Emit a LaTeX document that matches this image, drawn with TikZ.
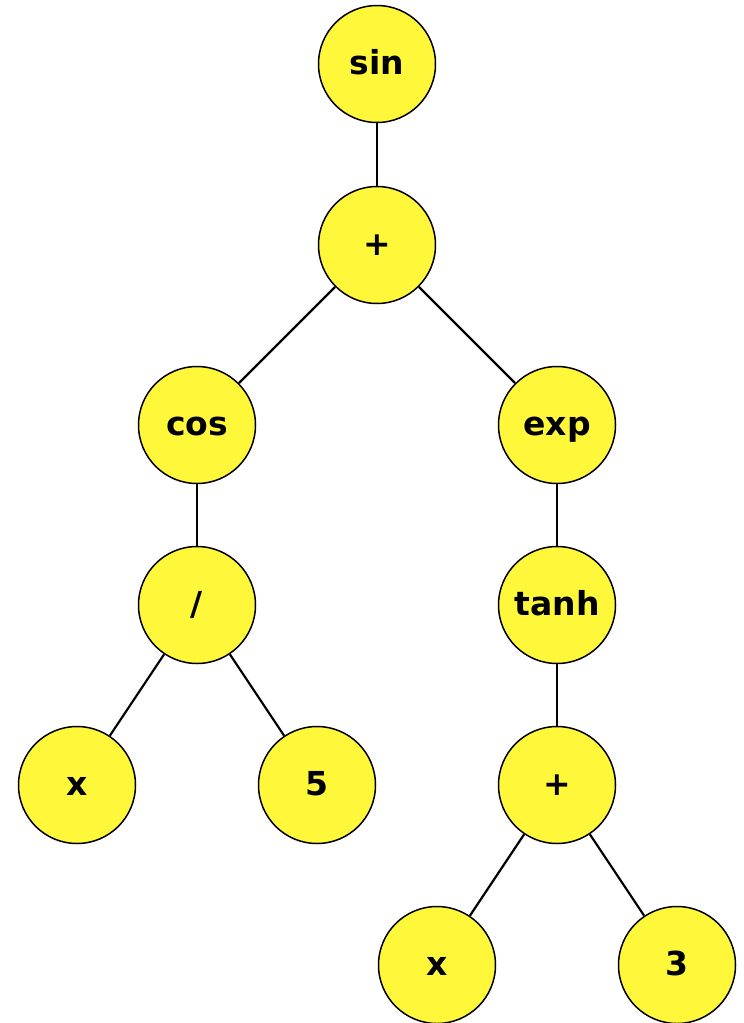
\documentclass[tikz,border=0pt]{standalone}
\usepackage{fontspec}
\setmainfont{DejaVu Sans}
\definecolor{nodeyellow}{RGB}{255,247,58}
\begin{document}
\begin{tikzpicture}[x=1pt,y=-1pt,
  tnode/.style={circle,draw=black,line width=1.5pt,fill=nodeyellow,minimum size=117pt,inner sep=0pt,
    text height=20pt,text depth=0pt,font=\fontsize{33}{38}\selectfont\bfseries},
  edge/.style={line width=2.2pt}]
\useasboundingbox (0,0) rectangle (744,1023);
\node[tnode] (sin) at (377,64) {sin};
\node[tnode] (plus1) at (377,245) {+};
\node[tnode] (cos) at (197,425) {cos};
\node[tnode] (exp) at (557,425) {exp};
\node[tnode] (div) at (197,605) {/};
\node[tnode] (tanh) at (557,605) {tanh};
\node[tnode] (x1) at (77,785) {x};
\node[tnode] (five) at (317,785) {5};
\node[tnode] (plus2) at (557,785) {+};
\node[tnode] (x2) at (437,965) {x};
\node[tnode] (three) at (677,965) {3};
\draw[edge] (sin) -- (plus1);
\draw[edge] (plus1) -- (cos);
\draw[edge] (plus1) -- (exp);
\draw[edge] (cos) -- (div);
\draw[edge] (div) -- (x1);
\draw[edge] (div) -- (five);
\draw[edge] (exp) -- (tanh);
\draw[edge] (tanh) -- (plus2);
\draw[edge] (plus2) -- (x2);
\draw[edge] (plus2) -- (three);
\end{tikzpicture}
\end{document}
